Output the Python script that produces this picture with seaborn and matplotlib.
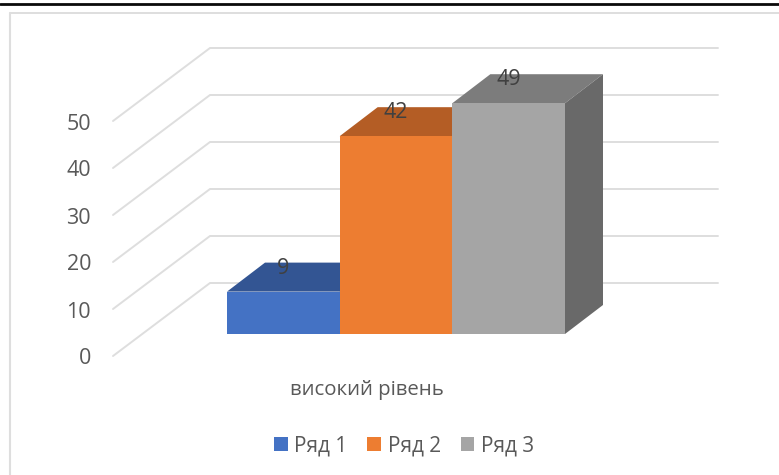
import matplotlib
matplotlib.use("Agg")
import matplotlib.pyplot as plt
from matplotlib.lines import Line2D
from matplotlib.patches import Polygon, Rectangle
import pandas as pd
import seaborn as sns

# Chart values
category = ["високий рівень"]
series_names = ["Ряд 1", "Ряд 2", "Ряд 3"]
series_values = [9, 42, 49]
axis_ticks = [0, 10, 20, 30, 40, 50]

# Face colours for each series
front_colors = ["#4472C4", "#ED7D31", "#A5A5A5"]
top_colors = ["#335593", "#B45D25", "#7C7C7C"]
side_colors = ["#2A4675", "#8E4A1E", "#696969"]

W, H = 779, 475
PX_PER_UNIT = 4.71      # vertical pixels per value unit
PX_PER_CAT = 422.5      # horizontal pixels per category unit
CAT_CENTER = 396.0      # pixel column of the category centre
BASE_Y = 334.0          # pixel row of the bar baseline

sns.set_theme(style="white")
plt.rcParams["font.family"] = ["Open Sans", "DejaVu Sans"]
TEXT = "#595959"
GRID = "#DEDEDE"


def xd(px):
    return (px - CAT_CENTER) / PX_PER_CAT


def yd(py):
    return (BASE_Y - py) / PX_PER_UNIT


fig = plt.figure(figsize=(W / 100, H / 100), dpi=100, facecolor="white")
ax = fig.add_axes([0, 0, 1, 1])

df = pd.DataFrame({
    "group": category * len(series_names),
    "series": series_names,
    "value": series_values,
})
sns.barplot(
    data=df, x="group", y="value", hue="series", hue_order=series_names,
    palette=front_colors, width=0.8, gap=0, saturation=1, errorbar=None,
    legend=False, ax=ax, linewidth=0,
)
ax.set_xlim(xd(0), xd(W))
ax.set_ylim(yd(H), yd(0))
ax.set_axis_off()

# Chart frame and the heavy rule above it
for xs, ys, c, lw in [
    ([10, 10], [12.7, H], GRID, 1.5),
    ([10, W], [12.7, 12.7], GRID, 1.4),
    ([0, W], [4, 4], "#0A0A0A", 2.0),
]:
    ax.add_line(Line2D([xd(x) for x in xs], [yd(y) for y in ys],
                       color=c, lw=lw, zorder=1))

# Gridlines run across the floor edge and then along the back wall
depth_x, depth_y = 97, 73
step_px = 47.0
for t in axis_ticks:
    y0 = 356 - step_px * t / 10
    ax.add_line(Line2D(
        [xd(113), xd(113 + depth_x), xd(718)],
        [yd(y0), yd(y0 - depth_y), yd(y0 - depth_y)],
        color=GRID, lw=1.4, zorder=1.5, solid_joinstyle="miter"))
    ax.text(xd(91), yd(y0 + 3), str(t), ha="right", va="center",
            fontsize=15.5, color=TEXT)

# Extrude each bar: top and side faces come from the bar's own rectangle
bar_dx = 38 / PX_PER_CAT
bar_dy = 29 / PX_PER_UNIT
bars = [p for p in ax.patches if isinstance(p, Rectangle)]
for i, (bar, value) in enumerate(zip(bars, series_values)):
    x0, x1 = bar.get_x(), bar.get_x() + bar.get_width()
    h = bar.get_height()
    z = 2 + i
    ax.add_patch(Polygon(
        [(x0, h), (x1, h), (x1 + bar_dx, h + bar_dy), (x0 + bar_dx, h + bar_dy)],
        closed=True, facecolor=top_colors[i], edgecolor="none", zorder=z))
    ax.add_patch(Polygon(
        [(x1, 0), (x1 + bar_dx, bar_dy), (x1 + bar_dx, h + bar_dy), (x1, h)],
        closed=True, facecolor=side_colors[i], edgecolor="none", zorder=z))
    bar.set_zorder(z + 0.5)
    ax.annotate(str(value), xy=((x0 + x1) / 2, h), xytext=(0, 23.5 * 0.72),
                textcoords="offset points", ha="center", va="center",
                fontsize=15.5, color="#404040", zorder=10)

ax.text(xd(367), yd(390.5), category[0], ha="center", va="center",
        fontsize=14.7, color=TEXT)

handles = [Rectangle((0, 0), 1, 1, facecolor=c, edgecolor="none") for c in front_colors]
leg = fig.legend(
    handles, series_names, ncol=3, frameon=False, loc="center",
    bbox_to_anchor=(404 / W, 1 - 446 / H), fontsize=15, labelcolor=TEXT,
    handlelength=0.67, handleheight=0.67, handletextpad=0.3,
    columnspacing=0.95, borderpad=0,
)

fig.savefig("out.png", dpi=100)
